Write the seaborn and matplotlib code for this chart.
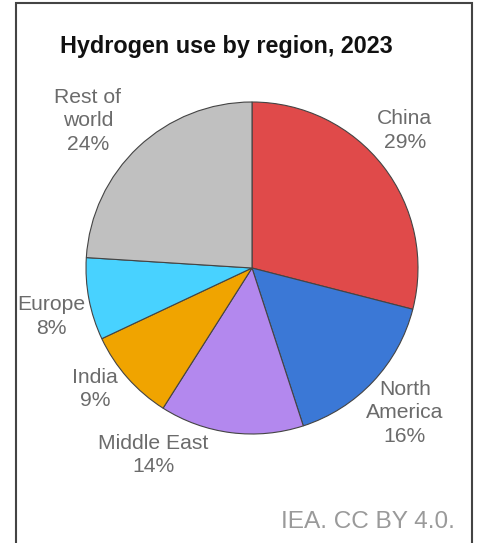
import matplotlib
matplotlib.use("Agg")
import matplotlib.pyplot as plt
import seaborn as sns
from matplotlib.patches import Rectangle

sns.set_theme(style="white")
plt.rcParams['font.family'] = ['Liberation Sans', 'DejaVu Sans']

regions = ["China", "North\nAmerica", "Middle East", "India", "Europe", "Rest of\nworld"]
shares = [29, 16, 14, 9, 8, 24]
colors = ["#E04A4A", "#3B78D6", "#B388EE", "#F0A400", "#48D2FF", "#C0C0C0"]
# label positions in pie-radius units (style)
label_pos = [(0.92, 0.83), (0.92, -0.873), (-0.596, -1.127), (-0.946, -0.729),
             (-1.21, -0.29), (-0.988, 0.886)]

W, H = 481, 543
fig = plt.figure(figsize=(W / 100, H / 100), dpi=100)
fig.patch.set_facecolor("white")

cx, cy, R = 252, 543 - 268, 166
lim = 1.4
half = lim * R
ax = fig.add_axes([(cx - half) / W, (cy - half) / H, 2 * half / W, 2 * half / H])
ax.pie(shares, colors=colors, startangle=90, counterclock=False, radius=1,
       wedgeprops=dict(edgecolor="#444444", linewidth=0.8))
ax.set_xlim(-lim, lim)
ax.set_ylim(-lim, lim)
ax.set_aspect("equal")
ax.axis("off")

for name, val, (x, y) in zip(regions, shares, label_pos):
    ax.text(x, y, f"{name}\n{val}%", ha="center", va="center", fontsize=15.2,
            color="#6b6b6b", linespacing=1.32)

fig.text(60 / W, 1 - 47 / H, "Hydrogen use by region, 2023", fontsize=16.8,
         fontweight="bold", color="#111111", ha="left", va="center")
fig.text(455 / W, 1 - 522 / H, "IEA. CC BY 4.0.", fontsize=17.6, color="#9a9a9a",
         ha="right", va="center")

fig.patches.append(Rectangle((16 / W, -0.05), (472 - 16) / W, (0.05 + 1 - 3 / H),
                             transform=fig.transFigure, fill=False,
                             edgecolor="#444444", linewidth=1.5))

fig.savefig("out.png", dpi=100)
